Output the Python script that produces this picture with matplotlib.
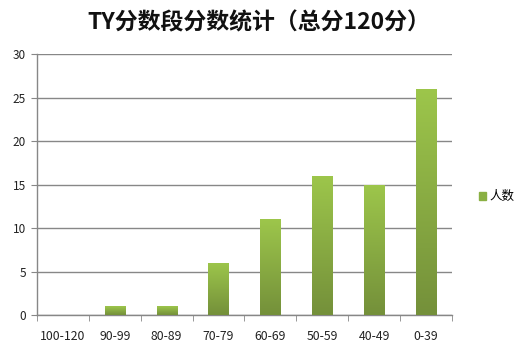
import matplotlib
matplotlib.use("Agg")
import matplotlib.pyplot as plt
import numpy as np
from matplotlib.colors import LinearSegmentedColormap
from matplotlib.patches import Rectangle

plt.rcParams['font.family'] = ['Noto Sans CJK SC', 'DejaVu Sans']

categories = ["100-120", "90-99", "80-89", "70-79", "60-69", "50-59", "40-49", "0-39"]
values = [0, 1, 1, 6, 11, 16, 15, 26]
yticks = [0, 5, 10, 15, 20, 25, 30]
title = "TY分数段分数统计（总分120分）"
series_name = "人数"

fig = plt.figure(figsize=(5.28, 3.58), dpi=100)
ax = fig.add_axes([0.070, 0.120, 0.786, 0.729])

x = np.arange(len(categories))
width = 0.39
cmap = LinearSegmentedColormap.from_list("g", ["#74903a", "#9dc64b"])
grad = np.linspace(0, 1, 256).reshape(-1, 1)
bars = ax.bar(x, values, width=width, color="#8ab043", zorder=2)
for b in bars:
    h = b.get_height()
    if h <= 0:
        continue
    im = ax.imshow(grad, cmap=cmap, origin="lower", aspect="auto",
                   extent=[b.get_x(), b.get_x() + b.get_width(), 0, h], zorder=3)
    im.set_clip_path(b)

ax.set_xlim(-0.5, len(categories) - 0.5)
ax.set_ylim(0, 30)
ax.set_yticks(yticks)
ax.set_yticklabels([str(v) for v in yticks], fontsize=8.5, color="#222222")
ax.yaxis.grid(True, color="#878787", linewidth=1.0, zorder=0)
ax.set_axisbelow(True)

ax.set_xticks(x)
ax.set_xticklabels(categories, fontsize=8.8, color="#222222")
ax.tick_params(axis="x", length=0, pad=11)
ax.set_xticks(np.arange(-0.5, len(categories)), minor=True)
ax.tick_params(axis="x", which="minor", length=4, color="#878787", direction="out")
ax.tick_params(axis="y", length=4, color="#878787", pad=4)

for s in ["top", "right"]:
    ax.spines[s].set_visible(False)
for s in ["left", "bottom"]:
    ax.spines[s].set_color("#878787")
    ax.spines[s].set_linewidth(1.0)

fig.text(0.49, 0.935, title, ha="center", va="center", fontsize=16.5,
         fontweight="bold", color="#111111")

handle = Rectangle((0, 0), 1, 1, color="#8ab043")
fig.legend([handle], [series_name], loc="center left",
           bbox_to_anchor=(0.885, 0.45), frameon=False, fontsize=9,
           handlelength=0.6, handleheight=0.6, handletextpad=0.3)

fig.savefig("out.png", dpi=100)
